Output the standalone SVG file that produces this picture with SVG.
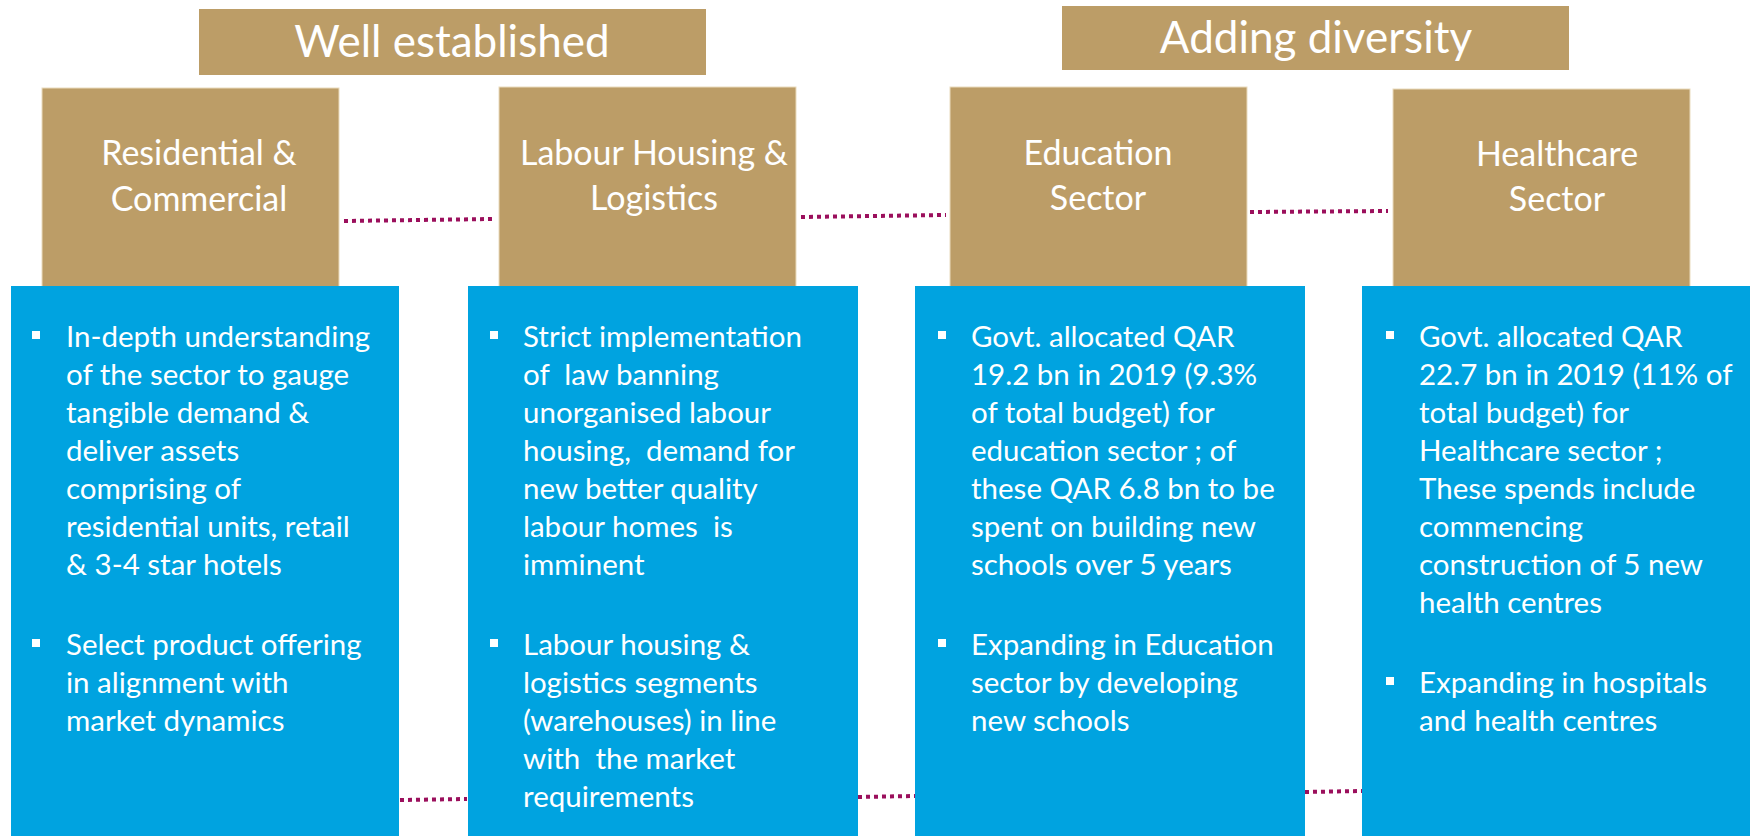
<svg xmlns="http://www.w3.org/2000/svg" width="1750" height="836" viewBox="0 0 1750 836">
<style>
.gold{fill:#BC9D67;}
.hdr{fill:#BC9D67;stroke:#EADBBE;stroke-width:1;}
.blue{fill:#00A3E0;}
.t{font-family:Lato,"Open Sans",sans-serif;fill:#FFFFFF;}
.title{font-size:44px;text-anchor:middle;}
.head{font-size:34px;text-anchor:middle;}
.body{font-size:29.5px;white-space:pre;}
.dot{stroke:#9B0F5C;stroke-width:4;stroke-dasharray:4 4;fill:none;}
.bul{fill:#FFFFFF;}
</style>
<g id="title-well-established">
<rect class="gold" x="199" y="9" width="507" height="66"/>
<text class="t title" x="452" y="57">Well established</text>
</g>
<g id="title-adding-diversity">
<rect class="gold" x="1062" y="6" width="507" height="64"/>
<text class="t title" x="1316" y="53">Adding diversity</text>
</g>
<g id="node-residential">
<rect class="hdr" x="42" y="88" width="297" height="210"/>
<text class="t head" x="199" y="165">Residential &amp;</text>
<text class="t head" x="199" y="211">Commercial</text>
</g>
<g id="node-labour">
<rect class="hdr" x="499" y="87" width="297" height="211"/>
<text class="t head" x="654" y="165">Labour Housing &amp;</text>
<text class="t head" x="654" y="210">Logistics</text>
</g>
<g id="node-education">
<rect class="hdr" x="950" y="87" width="297" height="211"/>
<text class="t head" x="1098" y="165">Education</text>
<text class="t head" x="1098" y="210">Sector</text>
</g>
<g id="node-healthcare">
<rect class="hdr" x="1393" y="89" width="297" height="209"/>
<text class="t head" x="1557" y="166">Healthcare</text>
<text class="t head" x="1557" y="211">Sector</text>
</g>
<g id="connectors">
<line class="dot" x1="344" y1="221" x2="492" y2="219"/>
<line class="dot" x1="801" y1="217" x2="946" y2="215"/>
<line class="dot" x1="1250" y1="212" x2="1388" y2="211"/>
<line class="dot" x1="400" y1="800" x2="467" y2="799"/>
<line class="dot" x1="858" y1="797" x2="915" y2="796"/>
<line class="dot" x1="1305" y1="792" x2="1362" y2="791"/>
</g>
<g id="card-residential">
<rect class="blue" x="11" y="286" width="388" height="550"/>
<rect class="bul" x="32" y="331" width="8" height="8"/>
<rect class="bul" x="32" y="639" width="8" height="8"/>
<text class="t body" x="66" y="347">In-depth understanding</text>
<text class="t body" x="66" y="385">of the sector to gauge</text>
<text class="t body" x="66" y="423">tangible demand &amp;</text>
<text class="t body" x="66" y="461">deliver assets</text>
<text class="t body" x="66" y="499">comprising of</text>
<text class="t body" x="66" y="537">residential units, retail</text>
<text class="t body" x="66" y="575">&amp; 3-4 star hotels</text>
<text class="t body" x="66" y="655">Select product offering</text>
<text class="t body" x="66" y="693">in alignment with</text>
<text class="t body" x="66" y="731">market dynamics</text>
</g>
<g id="card-labour">
<rect class="blue" x="468" y="286" width="390" height="550"/>
<rect class="bul" x="490" y="331" width="8" height="8"/>
<rect class="bul" x="490" y="639" width="8" height="8"/>
<text class="t body" x="523" y="347">Strict implementation</text>
<text class="t body" x="523" y="385">of  law banning</text>
<text class="t body" x="523" y="423">unorganised labour</text>
<text class="t body" x="523" y="461">housing,  demand for</text>
<text class="t body" x="523" y="499">new better quality</text>
<text class="t body" x="523" y="537">labour homes  is</text>
<text class="t body" x="523" y="575">imminent</text>
<text class="t body" x="523" y="655">Labour housing &amp;</text>
<text class="t body" x="523" y="693">logistics segments</text>
<text class="t body" x="523" y="731">(warehouses) in line</text>
<text class="t body" x="523" y="769">with  the market</text>
<text class="t body" x="523" y="807">requirements</text>
</g>
<g id="card-education">
<rect class="blue" x="915" y="286" width="390" height="550"/>
<rect class="bul" x="938" y="331" width="8" height="8"/>
<rect class="bul" x="938" y="639" width="8" height="8"/>
<text class="t body" x="971" y="347">Govt. allocated QAR</text>
<text class="t body" x="971" y="385">19.2 bn in 2019 (9.3%</text>
<text class="t body" x="971" y="423">of total budget) for</text>
<text class="t body" x="971" y="461">education sector ; of</text>
<text class="t body" x="971" y="499">these QAR 6.8 bn to be</text>
<text class="t body" x="971" y="537">spent on building new</text>
<text class="t body" x="971" y="575">schools over 5 years</text>
<text class="t body" x="971" y="655">Expanding in Education</text>
<text class="t body" x="971" y="693">sector by developing</text>
<text class="t body" x="971" y="731">new schools</text>
</g>
<g id="card-healthcare">
<rect class="blue" x="1362" y="286" width="388" height="550"/>
<rect class="bul" x="1386" y="331" width="8" height="8"/>
<rect class="bul" x="1386" y="677" width="8" height="8"/>
<text class="t body" x="1419" y="347">Govt. allocated QAR</text>
<text class="t body" x="1419" y="385">22.7 bn in 2019 (11% of</text>
<text class="t body" x="1419" y="423">total budget) for</text>
<text class="t body" x="1419" y="461">Healthcare sector ;</text>
<text class="t body" x="1419" y="499">These spends include</text>
<text class="t body" x="1419" y="537">commencing</text>
<text class="t body" x="1419" y="575">construction of 5 new</text>
<text class="t body" x="1419" y="613">health centres</text>
<text class="t body" x="1419" y="693">Expanding in hospitals</text>
<text class="t body" x="1419" y="731">and health centres</text>
</g>
</svg>
